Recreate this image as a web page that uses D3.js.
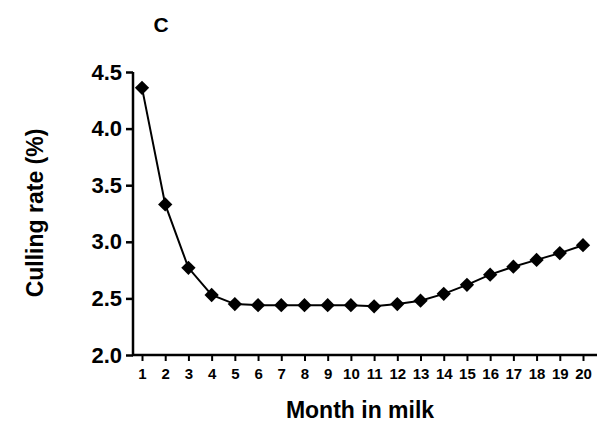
<!DOCTYPE html>
<html><head><meta charset="utf-8">
<script src="https://cdn.jsdelivr.net/npm/d3@7"></script>
<style>body{margin:0;background:#fff}text{font-family:"Liberation Sans",Arial,sans-serif;font-weight:bold}</style>
</head><body><svg width="605" height="433"></svg>
<script>
var months = d3.range(1, 21);
var cullingRate = [4.36, 3.33, 2.77, 2.53, 2.45, 2.44, 2.44, 2.44, 2.44, 2.44, 2.43, 2.45, 2.48, 2.54, 2.62, 2.71, 2.78, 2.84, 2.90, 2.97];
var yTicks = [2.0, 2.5, 3.0, 3.5, 4.0, 4.5];

var svg = d3.select("svg");
var x = d3.scaleLinear().domain([1, 20]).range([142, 583]);
var y = d3.scaleLinear().domain([2.0, 4.5]).range([355, 72]);

svg.append("g").attr("transform", "translate(133,0)")
  .call(d3.axisLeft(y).tickValues(yTicks).tickFormat(d3.format(".1f")).tickSize(7).tickPadding(4))
  .call(g => g.select(".domain").attr("stroke-width", 2.5).attr("d", "M0,356V72"))
  .call(g => g.selectAll(".tick line").attr("stroke-width", 2.5))
  .call(g => g.selectAll("text").attr("font-size", 22).attr("fill", "#000"));

svg.append("g").attr("transform", "translate(0,355)")
  .call(d3.axisBottom(x).tickValues(months).tickSize(6).tickPadding(7))
  .call(g => g.select(".domain").attr("stroke-width", 2.5).attr("d", "M132,0H597"))
  .call(g => g.selectAll(".tick line").attr("stroke-width", 2))
  .call(g => g.selectAll("text").attr("font-size", 15).attr("fill", "#000"));

svg.append("path").datum(cullingRate)
  .attr("fill", "none").attr("stroke", "#000").attr("stroke-width", 2)
  .attr("d", d3.line().x((d, i) => x(months[i])).y(d => y(d)));

svg.selectAll(".pt").data(cullingRate).join("path")
  .attr("transform", (d, i) => "translate(" + x(months[i]) + "," + y(d) + ")")
  .attr("d", d3.symbol(d3.symbolDiamond2, 130)).attr("fill", "#000");

svg.append("text").attr("x", 161).attr("y", 32).attr("text-anchor", "middle").attr("font-size", 21).text("C");
svg.append("text").attr("x", 360).attr("y", 418).attr("text-anchor", "middle").attr("font-size", 23).text("Month in milk");
svg.append("text").attr("transform", "translate(43,213) rotate(-90)").attr("text-anchor", "middle").attr("font-size", 23).text("Culling rate (%)");
</script></body></html>
